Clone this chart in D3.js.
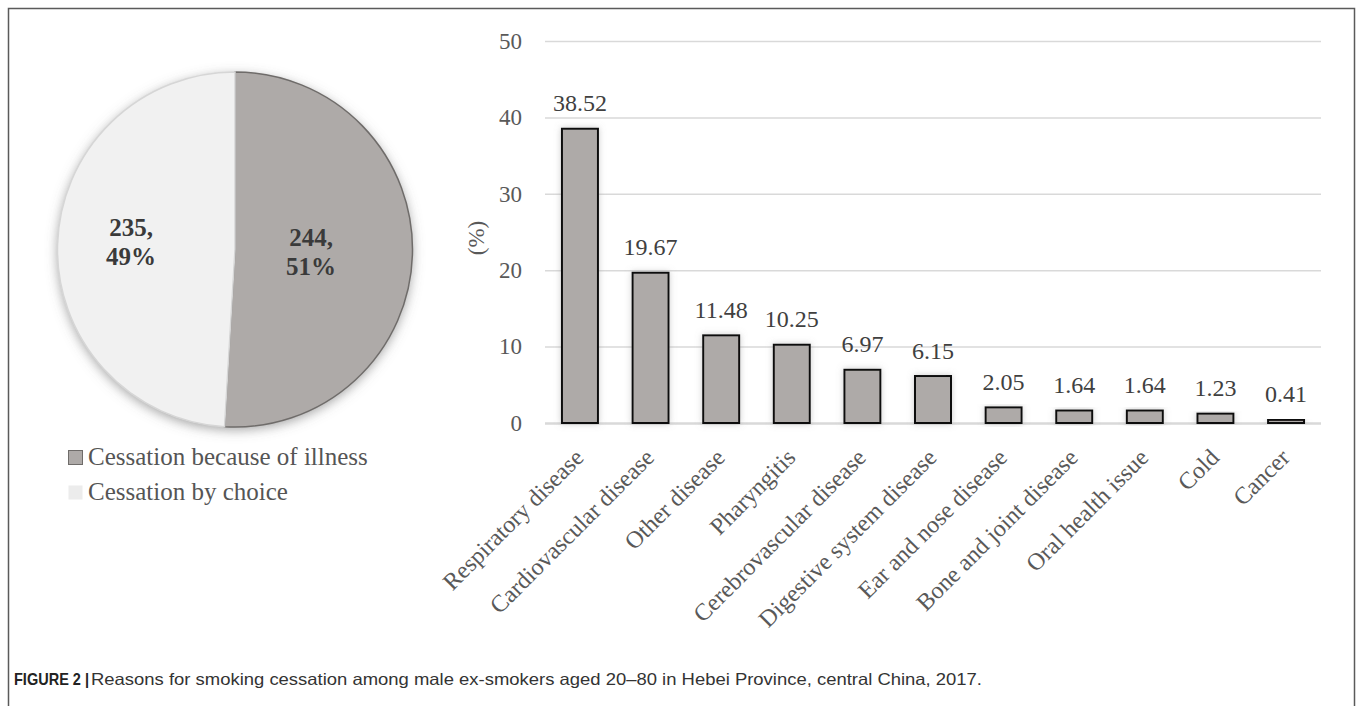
<!DOCTYPE html>
<html>
<head>
<meta charset="utf-8">
<script src="https://cdn.jsdelivr.net/npm/d3@7"></script>
<style>
    body { margin: 0; background: #fff; }
    svg { display: block; }
</style>
</head>
<body>
<script>
// pie data
const pieLabels = ["Cessation because of illness", "Cessation by choice"]
const pieCounts = [244, 235]
const piePercents = ["51%", "49%"]

// bar data
const causes = ["Respiratory disease", "Cardiovascular disease", "Other disease", "Pharyngitis",
    "Cerebrovascular disease", "Digestive system disease", "Ear and nose disease",
    "Bone and joint disease", "Oral health issue", "Cold", "Cancer"]
const percents = [38.52, 19.67, 11.48, 10.25, 6.97, 6.15, 2.05, 1.64, 1.64, 1.23, 0.41]
const yTicks = [0, 10, 20, 30, 40, 50]

const captionBold = "FIGURE 2 |"
const captionText = "Reasons for smoking cessation among male ex-smokers aged 20–80 in Hebei Province, central China, 2017."

const width = 1357
const height = 706
const serif = "'Liberation Serif', 'Times New Roman', serif"

const svg = d3.select("body").append("svg")
    .attr("width", width)
    .attr("height", height)

const defs = svg.append("defs")
defs.append("filter").attr("id", "pieShadow")
    .attr("x", "-20%").attr("y", "-20%").attr("width", "140%").attr("height", "140%")
    .append("feDropShadow")
    .attr("dx", 0).attr("dy", 3).attr("stdDeviation", 6)
    .attr("flood-color", "#666").attr("flood-opacity", 0.6)
defs.append("filter").attr("id", "barShadow")
    .attr("x", "-40%").attr("y", "-20%").attr("width", "180%").attr("height", "140%")
    .append("feDropShadow")
    .attr("dx", 0).attr("dy", 0).attr("stdDeviation", 3)
    .attr("flood-color", "#999").attr("flood-opacity", 0.5)

/* outer frame */
svg.append("rect")
    .attr("x", 8.5).attr("y", 8.5)
    .attr("width", 1346).attr("height", 730)
    .attr("fill", "none")
    .attr("stroke", "#5a5a5a")
    .attr("stroke-width", 1.5)

/* ---------- pie ---------- */
const pieColors = ["#aeaaa8", "#f1f1f1"]
const pieStrokes = ["#6f6c6a", "#d6d6d6"]
const cx = 235
const cy = 249.5
const radius = 177.5

const pie = d3.pie().sort(null)
const arcs = pie(pieCounts)
const arc = d3.arc().innerRadius(0).outerRadius(radius)

const pieG = svg.append("g").attr("transform", `translate(${cx}, ${cy})`)
pieG.append("circle")
    .attr("r", radius)
    .attr("fill", "#f1f1f1")
    .attr("filter", "url(#pieShadow)")
pieG.selectAll("path")
    .data(arcs)
    .enter()
    .append("path")
    .attr("d", arc)
    .attr("fill", (d, i) => pieColors[i])
    .attr("stroke", (d, i) => pieStrokes[i])
    .attr("stroke-width", 1.5)

// slice labels
const labelPos = [[76, -4], [-104, -14]]
pieG.selectAll("text.slice")
    .data(arcs)
    .enter()
    .append("text")
    .attr("class", "slice")
    .attr("text-anchor", "middle")
    .attr("font-family", serif)
    .attr("font-weight", "bold")
    .attr("font-size", 25)
    .attr("fill", "#3a3a3a")
    .each(function (d, i) {
        const t = d3.select(this)
        t.append("tspan").attr("x", labelPos[i][0]).attr("y", labelPos[i][1]).text(`${pieCounts[i]},`)
        t.append("tspan").attr("x", labelPos[i][0]).attr("y", labelPos[i][1] + 29).text(piePercents[i])
    })

// legend
const legend = svg.append("g").attr("transform", "translate(68, 450)")
legend.selectAll("rect")
    .data(pieLabels)
    .enter()
    .append("rect")
    .attr("x", 0.5)
    .attr("y", (d, i) => i * 35 + 0.5)
    .attr("width", 14)
    .attr("height", 14)
    .attr("fill", (d, i) => i === 0 ? pieColors[0] : "#ececec")
    .attr("stroke", (d, i) => i === 0 ? "#6f6c6a" : "none")
legend.selectAll("text")
    .data(pieLabels)
    .enter()
    .append("text")
    .attr("x", 20)
    .attr("y", (d, i) => i * 35 + 15)
    .attr("font-family", serif)
    .attr("font-size", 25)
    .attr("fill", "#555")
    .text(d => d)

/* ---------- bar chart ---------- */
const plotLeft = 545
const plotRight = 1321

const xScale = d3.scaleBand()
    .domain(causes)
    .range([plotLeft, plotRight])
    .paddingInner(0.49)
    .paddingOuter(0.24)

const yScale = d3.scaleLinear()
    .domain([0, 50])
    .range([423, 41])

// gridlines + y tick labels
const yAxis = d3.axisLeft(yScale)
    .tickValues(yTicks)
    .tickSizeInner(-(plotRight - plotLeft))
    .tickSizeOuter(0)
    .tickPadding(23)
const yAxisG = svg.append("g")
    .attr("transform", `translate(${plotLeft}, 0)`)
    .call(yAxis)
yAxisG.select(".domain").remove()
yAxisG.selectAll(".tick line")
    .attr("stroke", "#d9d9d9")
    .attr("stroke-width", d => d === 0 ? 2.5 : 1.5)
yAxisG.selectAll(".tick text")
    .attr("font-family", serif)
    .attr("font-size", 23)
    .attr("fill", "#595959")

svg.append("text")
    .attr("transform", "translate(484, 238) rotate(-90)")
    .attr("text-anchor", "middle")
    .attr("font-family", serif)
    .attr("font-size", 23)
    .attr("fill", "#595959")
    .text("(%)")

// bars
svg.append("g").selectAll("rect")
    .data(percents)
    .enter()
    .append("rect")
    .attr("x", (d, i) => xScale(causes[i]))
    .attr("y", d => yScale(d))
    .attr("width", xScale.bandwidth())
    .attr("height", d => yScale(0) - yScale(d))
    .attr("fill", "#aeaaa8")
    .attr("stroke", "#111")
    .attr("stroke-width", 2)
    .attr("filter", "url(#barShadow)")

// value labels
svg.append("g").selectAll("text")
    .data(percents)
    .enter()
    .append("text")
    .attr("x", (d, i) => xScale(causes[i]) + xScale.bandwidth() / 2)
    .attr("y", d => yScale(d) - 17.5)
    .attr("text-anchor", "middle")
    .attr("font-family", serif)
    .attr("font-size", 24)
    .attr("fill", "#404040")
    .text(d => d.toFixed(2))

// x axis labels
const xAxis = d3.axisBottom(xScale).tickSize(0)
const xAxisG = svg.append("g")
    .attr("transform", `translate(0, ${yScale(0)})`)
    .call(xAxis)
xAxisG.select(".domain").remove()
xAxisG.selectAll(".tick text")
    .attr("x", 0)
    .attr("y", 0)
    .attr("dy", 0)
    .attr("text-anchor", "end")
    .attr("transform", "translate(5, 36) rotate(-45)")
    .attr("font-family", serif)
    .attr("font-size", 24)
    .attr("fill", "#595959")

/* ---------- caption ---------- */
svg.append("text")
    .attr("x", 14)
    .attr("y", 685)
    .attr("font-family", "'Liberation Sans', Arial, sans-serif")
    .attr("font-weight", "bold")
    .attr("font-size", 16.5)
    .attr("textLength", 75)
    .attr("lengthAdjust", "spacingAndGlyphs")
    .attr("fill", "#222")
    .text(captionBold)
svg.append("text")
    .attr("x", 91)
    .attr("y", 685)
    .attr("font-family", "'Liberation Sans', Arial, sans-serif")
    .attr("font-size", 16.5)
    .attr("textLength", 891)
    .attr("lengthAdjust", "spacingAndGlyphs")
    .attr("fill", "#333")
    .text(captionText)
</script>
</body>
</html>
